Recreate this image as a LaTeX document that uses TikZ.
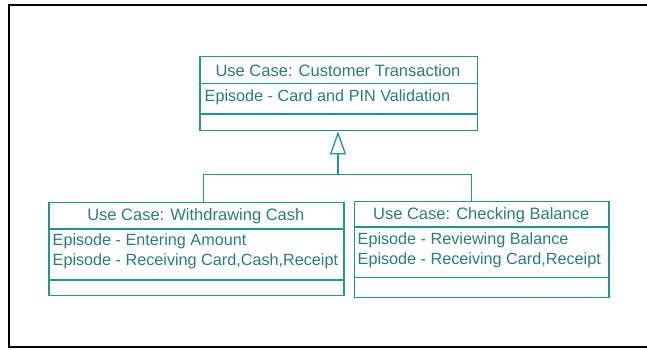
\documentclass[tikz,border=0pt]{standalone}
\usepackage{fontspec}
\setmainfont{Liberation Sans}
\usetikzlibrary{arrows.meta,calc}
\definecolor{umlline}{RGB}{32,150,148}
\definecolor{umltext}{RGB}{40,125,122}
\tikzset{
  x=1pt, y=-1pt,
  ucbox/.style={draw=umlline, line width=1.3pt, rectangle, inner sep=0pt, anchor=north west},
  sep/.style={draw=umlline, line width=1.3pt},
  ttl/.style={text=umltext, font=\fontsize{16.5}{19}\selectfont, inner sep=0pt, anchor=center},
  epi/.style={text=umltext, font=\fontsize{16.2}{19}\selectfont, inner sep=0pt, anchor=west},
  conn/.style={draw=umlline, line width=1.3pt},
  frame/.style={draw=black, line width=2.4pt}
}
\begin{document}
\begin{tikzpicture}
\useasboundingbox (0,0) rectangle (647,350);
\draw[frame] (660,5.3) -- (9,5.3) -- (9,347) -- (660,347);

% top box
\node[ucbox, minimum width=277.4pt, minimum height=74pt] (ct) at (199.3,56) {};
\draw[sep] (199.3,83.5) -- (476.7,83.5);
\draw[sep] (199.3,114) -- (476.7,114);
\node[ttl] (ctt) at (338,71) {Use Case: Customer Transaction};
\node[epi] (cte) at (204.5,97.5) {Episode - Card and PIN Validation};

% left box
\node[ucbox, minimum width=295pt, minimum height=93.5pt] (wc) at (48.3,201.5) {};
\draw[sep] (48.3,229) -- (343.3,229);
\draw[sep] (48.3,280) -- (343.3,280);
\node[ttl] (wct) at (195.8,216.5) {Use Case: Withdrawing Cash};
\node[epi] (wce1) at (52.5,241) {Episode - Entering Amount};
\node[epi] (wce2) at (52.5,261) {Episode - Receiving Card,Cash,Receipt};

% right box
\node[ucbox, minimum width=254.3pt, minimum height=95.7pt] (cb) at (354,201) {};
\draw[sep] (354,227) -- (608.3,227);
\draw[sep] (354,277.5) -- (608.3,277.5);
\node[ttl] (cbt) at (481.2,215.5) {Use Case: Checking Balance};
\node[epi] (cbe1) at (357.5,240) {Episode - Reviewing Balance};
\node[epi] (cbe2) at (357.5,260) {Episode - Receiving Card,Receipt};

% generalization connectors
\coordinate (jn) at (338,174.5);
\coordinate (jl) at (203.3,174.5);
\coordinate (jr) at (471.7,174.5);
\draw[conn] (wc.north -| jl) -- (jl) -- (jr) -- (cb.north -| jr);
\draw[conn, -{Triangle[open, width=16pt, length=23pt, line width=1.3pt]}] (jn) -- (ct.south -| jn);
\end{tikzpicture}
\end{document}
